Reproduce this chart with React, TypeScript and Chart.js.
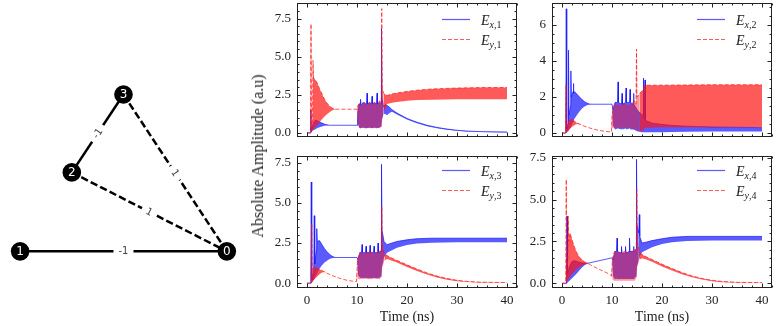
import React, { useEffect, useRef } from 'react';
import { Chart, registerables } from 'chart.js';
Chart.register(...registerables);

// ---------------- network (left) ----------------
const NODE_LABELS = ['0', '1', '2', '3'];
const NODE_X = [1.0, -1.0, -0.5, 0.0];
const NODE_Y = [-0.6, -0.6, 0.15, 0.89];
const EDGE_SRC = [1, 2, 2, 3];
const EDGE_DST = [0, 3, 0, 0];
const EDGE_WEIGHT = [-1, -1, 1, 1];

// ---------------- time series ----------------
// rows: [time (ns), upper envelope, lower envelope]
type Row = [number, number, number];

const TIME_TICKS = [0, 10, 20, 30, 40];
const Y_TICKS_25 = [0, 2.5, 5, 7.5];
const Y_TICKS_2 = [0, 2, 4, 6];
// window (ns) in which both fields oscillate on top of each other
const MIXED_WINDOW = [10.0, 15.2];

const EX1: Row[] = [
  [0, 0, 0], [0.7, 0, 0], [0.78, 1.5, 0], [0.84, 0.1, 0.05], [0.9, 0.25, 0.1], [1.2, 0.6, 0.15],
  [1.6, 0.82, 0.22], [2.0, 0.8, 0.3], [2.5, 0.72, 0.37], [3.0, 0.64, 0.42], [3.5, 0.57, 0.46],
  [4.0, 0.53, 0.48], [4.5, 0.5, 0.5], [10.0, 0.5, 0.5], [10.15, 1.3, 0.7], [10.4, 1.9, 0.35],
  [10.6, 1.9, 0.3], [10.7, 2.2, 0.3], [10.8, 1.8, 0.3], [11.2, 2.0, 0.35], [11.7, 1.9, 0.3],
  [11.9, 1.9, 0.3], [12.0, 2.6, 0.3], [12.1, 1.9, 0.3], [12.5, 2.0, 0.35], [12.9, 1.9, 0.3],
  [13.0, 2.4, 0.3], [13.1, 1.9, 0.3], [13.5, 2.0, 0.35], [13.9, 1.9, 0.3], [14.0, 2.6, 0.3],
  [14.1, 1.9, 0.3], [14.5, 2.0, 0.35], [14.8, 1.9, 0.4], [14.9, 6.85, 0.5], [15.0, 2.3, 0.9],
  [15.3, 1.7, 1.2], [15.6, 1.85, 1.25], [16.0, 1.8, 1.15], [16.5, 1.68, 1.3], [17.0, 1.52, 1.38],
  [18.0, 1.3, 1.2], [19.0, 1.12, 1.04], [20.0, 0.95, 0.88], [21.0, 0.82, 0.75], [22.0, 0.7, 0.63],
  [24.0, 0.5, 0.44], [26.0, 0.36, 0.31], [28.0, 0.25, 0.21], [30.0, 0.17, 0.14], [32.0, 0.12, 0.09],
  [35.0, 0.08, 0.05], [40.0, 0.06, 0.03],
];
const EY1: Row[] = [
  [0, 0, 0], [0.7, 0, 0], [0.8, 7.15, 0], [0.9, 0.3, 0.1], [1.1, 0.5, 0.15], [1.2, 4.75, 0.2],
  [1.3, 3.6, 0.25], [1.6, 3.5, 0.35], [2.0, 3.3, 0.5], [2.5, 2.9, 0.7], [3.0, 2.55, 0.9],
  [3.5, 2.2, 1.08], [4.0, 1.95, 1.22], [4.5, 1.76, 1.36], [5.0, 1.63, 1.46], [5.5, 1.56, 1.53],
  [6.0, 1.55, 1.55], [10.0, 1.55, 1.55], [10.15, 1.8, 0.6], [10.5, 1.9, 0.3], [11.0, 1.7, 0.35],
  [11.5, 2.0, 0.3], [12.0, 1.8, 0.35], [12.5, 2.0, 0.3], [13.0, 1.8, 0.35], [13.5, 2.0, 0.3],
  [14.0, 1.8, 0.35], [14.5, 2.1, 0.3], [14.85, 2.0, 0.4], [14.95, 8.15, 0.5], [15.05, 3.0, 0.9],
  [15.3, 2.6, 1.3], [16.0, 2.45, 1.9], [17.0, 2.55, 1.98], [18.0, 2.62, 2.03], [20.0, 2.72, 2.1],
  [22.0, 2.8, 2.15], [25.0, 2.88, 2.18], [30.0, 2.94, 2.2], [35.0, 2.97, 2.2], [40.0, 2.98, 2.2],
];
const EX2: Row[] = [
  [0, 0, 0], [0.75, 0, 0], [0.85, 6.9, 0], [0.95, 0.2, 0.05], [1.2, 0.5, 0.1], [1.3, 4.6, 0.15],
  [1.4, 1.0, 0.2], [1.7, 1.5, 0.3], [1.78, 3.45, 0.35], [1.86, 2.0, 0.4], [2.2, 2.3, 0.6],
  [2.28, 2.75, 0.65], [2.36, 2.2, 0.7], [2.5, 2.3, 0.8], [3.0, 2.15, 1.0], [3.5, 2.0, 1.2],
  [4.0, 1.86, 1.36], [4.5, 1.74, 1.48], [5.0, 1.66, 1.55], [5.5, 1.61, 1.59], [6.0, 1.6, 1.6],
  [10.0, 1.6, 1.6], [10.2, 1.3, 0.4], [10.6, 1.7, 0.2], [11.1, 1.7, 0.25], [11.2, 2.84, 0.25],
  [11.3, 1.7, 0.25], [11.9, 1.6, 0.2], [12.0, 2.2, 0.25], [12.1, 1.6, 0.2], [12.7, 1.7, 0.25],
  [12.8, 2.5, 0.25], [12.9, 1.7, 0.2], [13.5, 1.7, 0.25], [13.6, 2.42, 0.25], [13.7, 1.7, 0.2],
  [14.2, 1.6, 0.2], [14.3, 2.2, 0.25], [14.4, 1.6, 0.2], [15.0, 1.3, 0.1], [16.0, 1.0, 0.05],
  [16.2, 1.0, 0.05], [16.3, 3.05, 0.05], [16.4, 0.8, 0.05], [16.5, 0.8, 0.05], [16.6, 2.95, 0.05],
  [16.7, 0.7, 0.05], [18.0, 0.55, 0.05], [20.0, 0.48, 0.05], [22.0, 0.42, 0.06], [25.0, 0.38, 0.07],
  [30.0, 0.34, 0.08], [35.0, 0.32, 0.08], [40.0, 0.3, 0.08],
];
const EY2: Row[] = [
  [0, 0, 0], [0.7, 0, 0], [0.8, 2.7, 0], [0.9, 0.1, 0.05], [1.2, 0.6, 0.1], [1.8, 0.78, 0.3],
  [2.5, 0.66, 0.45], [3.0, 0.56, 0.5], [3.5, 0.5, 0.48], [4.0, 0.43, 0.43], [5.0, 0.33, 0.33],
  [6.0, 0.24, 0.24], [7.0, 0.17, 0.17], [8.0, 0.12, 0.12], [9.0, 0.08, 0.08], [9.9, 0.06, 0.06],
  [10.0, 1.0, 0.3], [10.5, 1.6, 0.3], [11.5, 1.5, 0.3], [12.5, 1.6, 0.3], [13.5, 1.5, 0.3],
  [14.5, 1.8, 0.2], [14.8, 1.6, 0.2], [14.9, 4.65, 0.2], [15.0, 2.0, 0.15], [15.5, 2.2, 0.1],
  [16.3, 2.4, 0.15], [16.5, 2.65, 0.3], [20.0, 2.66, 0.32], [30.0, 2.68, 0.32], [40.0, 2.68, 0.32],
];
const EX3: Row[] = [
  [0, 0, 0], [0.75, 0, 0], [0.85, 6.3, 0], [0.95, 0.2, 0.05], [1.35, 0.8, 0.2], [1.45, 4.2, 0.25],
  [1.55, 1.2, 0.3], [1.85, 2.0, 0.5], [1.95, 3.4, 0.55], [2.05, 2.6, 0.6], [2.5, 2.65, 0.9],
  [3.0, 2.4, 1.12], [3.5, 2.15, 1.28], [4.0, 1.96, 1.4], [4.5, 1.8, 1.5], [5.0, 1.68, 1.56],
  [5.5, 1.61, 1.59], [6.0, 1.6, 1.6], [10.0, 1.6, 1.6], [10.2, 1.5, 0.5], [10.6, 1.9, 0.35],
  [10.9, 1.9, 0.3], [11.0, 2.4, 0.35], [11.1, 1.9, 0.3], [11.7, 1.9, 0.3], [11.8, 2.3, 0.35],
  [11.9, 1.9, 0.3], [12.5, 1.9, 0.3], [12.6, 2.35, 0.35], [12.7, 1.9, 0.3], [13.3, 1.9, 0.3],
  [13.4, 2.3, 0.35], [13.5, 1.9, 0.3], [14.1, 1.9, 0.3], [14.2, 2.5, 0.35], [14.3, 1.9, 0.3],
  [14.8, 2.0, 0.4], [14.9, 7.4, 0.5], [15.0, 3.3, 1.0], [15.4, 2.6, 1.6], [16.0, 2.4, 1.9],
  [17.0, 2.5, 2.05], [18.0, 2.6, 2.2], [20.0, 2.7, 2.38], [22.0, 2.77, 2.47], [25.0, 2.8, 2.52],
  [30.0, 2.8, 2.55], [40.0, 2.8, 2.55],
];
const EY3: Row[] = [
  [0, 0, 0], [0.85, 0, 0], [0.95, 3.7, 0], [1.05, 0.3, 0.05], [1.3, 1.0, 0.2], [2.0, 0.95, 0.4],
  [2.5, 0.86, 0.55], [3.0, 0.78, 0.66], [3.5, 0.71, 0.69], [4.0, 0.62, 0.62], [5.0, 0.48, 0.48],
  [6.0, 0.36, 0.36], [7.0, 0.26, 0.26], [8.0, 0.18, 0.18], [9.0, 0.13, 0.13], [9.9, 0.1, 0.1],
  [10.1, 1.4, 0.3], [10.5, 1.9, 0.25], [11.5, 1.8, 0.3], [12.5, 2.0, 0.25], [13.5, 1.8, 0.3],
  [14.5, 2.0, 0.25], [14.85, 2.0, 0.4], [14.95, 4.8, 0.6], [15.05, 2.4, 1.0], [15.5, 1.8, 1.4],
  [16.0, 1.72, 1.5], [17.0, 1.56, 1.4], [18.0, 1.42, 1.28], [20.0, 1.14, 1.0], [22.0, 0.88, 0.76],
  [24.0, 0.64, 0.54], [26.0, 0.44, 0.36], [28.0, 0.29, 0.22], [30.0, 0.18, 0.12], [32.0, 0.11, 0.07],
  [35.0, 0.06, 0.03], [40.0, 0.04, 0.02],
];
const EX4: Row[] = [
  [0, 0, 0], [0.8, 0, 0], [0.9, 0.3, 0], [1.0, 4.0, 0.02], [1.1, 0.6, 0.05], [1.5, 1.0, 0.15],
  [2.0, 1.3, 0.3], [2.5, 1.35, 0.45], [3.0, 1.3, 0.6], [3.5, 1.25, 0.78], [4.0, 1.22, 0.95],
  [4.5, 1.2, 1.08], [5.0, 1.2, 1.17], [5.5, 1.22, 1.22], [10.0, 1.52, 1.52], [10.2, 1.4, 0.4],
  [10.6, 1.9, 0.25], [10.9, 1.9, 0.25], [11.0, 2.7, 0.3], [11.1, 1.9, 0.25], [11.8, 1.8, 0.25],
  [11.9, 2.2, 0.3], [12.0, 1.8, 0.25], [12.6, 1.8, 0.25], [12.7, 2.2, 0.3], [12.8, 1.8, 0.25],
  [13.4, 1.9, 0.25], [13.5, 2.7, 0.3], [13.6, 1.9, 0.25], [14.2, 1.9, 0.25], [14.3, 2.2, 0.3],
  [14.4, 1.9, 0.25], [14.8, 2.0, 0.4], [14.9, 7.4, 0.5], [15.0, 3.5, 1.0], [15.35, 3.0, 1.4],
  [15.45, 4.1, 1.5], [15.55, 2.8, 1.6], [16.0, 2.4, 1.85], [17.0, 2.47, 2.0], [18.0, 2.55, 2.15],
  [20.0, 2.66, 2.35], [22.0, 2.75, 2.45], [25.0, 2.8, 2.52], [30.0, 2.8, 2.55], [40.0, 2.8, 2.55],
];
const EY4: Row[] = [
  [0, 0, 0], [0.75, 0, 0], [0.85, 6.2, 0], [0.95, 0.4, 0.05], [1.15, 1.5, 0.2], [1.25, 4.0, 0.25],
  [1.35, 2.5, 0.3], [1.6, 3.0, 0.4], [2.0, 2.6, 0.55], [2.5, 2.15, 0.72], [3.0, 1.8, 0.86],
  [3.5, 1.56, 0.98], [4.0, 1.4, 1.06], [4.5, 1.28, 1.12], [5.0, 1.2, 1.16], [5.5, 1.14, 1.14],
  [6.0, 1.05, 1.05], [7.0, 0.9, 0.9], [8.0, 0.76, 0.76], [9.0, 0.62, 0.62], [9.9, 0.45, 0.45],
  [10.1, 1.5, 0.2], [10.5, 1.9, 0.15], [11.5, 1.8, 0.15], [12.5, 1.9, 0.15], [13.5, 1.8, 0.15],
  [14.5, 2.0, 0.15], [14.85, 2.0, 0.3], [14.95, 5.6, 0.5], [15.05, 2.5, 1.0], [15.5, 1.85, 1.4],
  [16.0, 1.72, 1.5], [17.0, 1.56, 1.4], [18.0, 1.42, 1.28], [20.0, 1.14, 1.0], [22.0, 0.88, 0.76],
  [24.0, 0.64, 0.54], [26.0, 0.44, 0.36], [28.0, 0.29, 0.22], [30.0, 0.18, 0.12], [32.0, 0.11, 0.07],
  [35.0, 0.06, 0.03], [40.0, 0.04, 0.02],
];

const SUBS_1 = ['x,1', 'y,1'];
const SUBS_2 = ['x,2', 'y,2'];
const SUBS_3 = ['x,3', 'y,3'];
const SUBS_4 = ['x,4', 'y,4'];

const BLUE = 'rgba(20,20,255,0.7)';
const RED = 'rgba(255,20,20,0.7)';
const RED_THIN = 'rgba(255,20,20,0.45)';
const INK = '#222';
const SERIF = '"Liberation Serif", "Times New Roman", serif';

// ---------------- plugins ----------------
const framePlugin = {
  id: 'frame',
  afterDraw(chart: any, _args: any, o: any) {
    const { ctx, chartArea: a } = chart;
    const xs = chart.scales.x;
    const ys = chart.scales.y;
    const L = Math.round(a.left) + 0.5;
    const R = Math.round(a.right) - 0.5;
    const T = Math.round(a.top) + 0.5;
    const B = Math.round(a.bottom) - 0.5;
    const seg = (x1: number, y1: number, x2: number, y2: number) => {
      ctx.beginPath(); ctx.moveTo(x1, y1); ctx.lineTo(x2, y2); ctx.stroke();
    };
    const isMajor = (arr: number[], v: number) => arr.some((m) => Math.abs(m - v) < 1e-6);
    ctx.save();
    ctx.strokeStyle = INK;
    ctx.lineWidth = 1;
    ctx.strokeRect(L, T, R - L, B - T);
    for (let v = Math.ceil(xs.min / o.xMinor) * o.xMinor; v <= xs.max + 1e-9; v += o.xMinor) {
      const len = isMajor(o.xMajor, v) ? 4 : 2;
      const px = Math.round(xs.getPixelForValue(v)) + 0.5;
      seg(px, B, px, B - len);
      seg(px, T, px, T + len);
    }
    for (let v = Math.ceil(ys.min / o.yMinor) * o.yMinor; v <= ys.max + 1e-9; v += o.yMinor) {
      const len = isMajor(o.yMajor, v) ? 4 : 2;
      const py = Math.round(ys.getPixelForValue(v)) + 0.5;
      seg(L, py, L + len, py);
      seg(R, py, R - len, py);
    }
    const rows = [
      { color: BLUE, dash: [] as number[], sub: o.subs[0] },
      { color: RED, dash: [4, 2], sub: o.subs[1] },
    ];
    rows.forEach((r, i) => {
      const y = a.top + o.legendTop + i * 20;
      ctx.strokeStyle = r.color;
      ctx.lineWidth = 1.2;
      ctx.setLineDash(r.dash);
      seg(a.right - 75, y, a.right - 47, y);
      ctx.setLineDash([]);
      let x = a.right - 36;
      ctx.fillStyle = INK;
      ctx.textBaseline = 'alphabetic';
      ctx.textAlign = 'left';
      ctx.font = 'italic 14px ' + SERIF;
      ctx.fillText('E', x, y + 5);
      x += ctx.measureText('E').width;
      ctx.font = 'italic 10px ' + SERIF;
      ctx.fillText(r.sub[0], x, y + 8);
      x += ctx.measureText(r.sub[0]).width;
      ctx.font = '10px ' + SERIF;
      ctx.fillText(r.sub.slice(1), x, y + 8);
    });
    ctx.restore();
  },
};

const netLabelPlugin = {
  id: 'netLabels',
  afterDatasetsDraw(chart: any) {
    const { ctx } = chart;
    const xs = chart.scales.x;
    const ys = chart.scales.y;
    const pos = (i: number) => [xs.getPixelForValue(NODE_X[i]), ys.getPixelForValue(NODE_Y[i])];
    ctx.save();
    ctx.textAlign = 'center';
    ctx.textBaseline = 'middle';
    ctx.font = '10px "DejaVu Sans", sans-serif';
    EDGE_SRC.forEach((s, k) => {
      const [x1, y1] = pos(s);
      const [x2, y2] = pos(EDGE_DST[k]);
      const mx = (x1 + x2) / 2;
      const my = (y1 + y2) / 2;
      let ang = Math.atan2(y2 - y1, x2 - x1);
      if (ang > Math.PI / 2) ang -= Math.PI;
      if (ang < -Math.PI / 2) ang += Math.PI;
      const txt = String(EDGE_WEIGHT[k]);
      const w = ctx.measureText(txt).width + 10;
      const h = 13;
      ctx.save();
      ctx.translate(mx, my);
      ctx.rotate(ang);
      ctx.fillStyle = '#fff';
      ctx.beginPath();
      if (ctx.roundRect) ctx.roundRect(-w / 2, -h / 2, w, h, 3); else ctx.rect(-w / 2, -h / 2, w, h);
      ctx.fill();
      ctx.fillStyle = '#444';
      ctx.fillText(txt, 0, 0.5);
      ctx.restore();
    });
    ctx.font = '12px "DejaVu Sans", sans-serif';
    ctx.fillStyle = '#fff';
    NODE_LABELS.forEach((l, i) => {
      const [x, y] = pos(i);
      ctx.fillText(l, x, y + 0.5);
    });
    ctx.restore();
  },
};

// ---------------- components ----------------
function Network() {
  const ref = useRef<HTMLCanvasElement>(null);
  useEffect(() => {
    const pts = NODE_X.map((x, i) => ({ x, y: NODE_Y[i] }));
    const edgeSets = EDGE_SRC.map((s, k) => ({
      data: [pts[s], pts[EDGE_DST[k]]],
      showLine: true,
      borderColor: '#000',
      borderWidth: 2.5,
      borderDash: EDGE_WEIGHT[k] > 0 ? [7.4, 3.2] : [],
      pointRadius: 0,
      order: 1,
      clip: false,
    }));
    const nodeSet = {
      data: pts,
      showLine: false,
      pointRadius: 9.3,
      pointHoverRadius: 9.3,
      backgroundColor: '#000',
      borderWidth: 0,
      order: 0,
      clip: false,
    };
    const chart = new Chart(ref.current as HTMLCanvasElement, {
      type: 'scatter',
      data: { datasets: [...edgeSets, nodeSet] as any },
      options: {
        animation: false,
        responsive: false,
        events: [],
        layout: { padding: 0 },
        plugins: { legend: { display: false }, tooltip: { enabled: false } },
        scales: {
          x: { type: 'linear', display: false, min: -1.1048, max: 1.1343 },
          y: { type: 'linear', display: false, min: -1.2206, max: 1.6992 },
        },
      } as any,
      plugins: [netLabelPlugin],
    });
    return () => chart.destroy();
  }, []);
  return (
    <canvas ref={ref} width={250} height={326}
      style={{ position: 'absolute', left: 0, top: 0, width: 250, height: 326 }} />
  );
}

type PanelProps = {
  left: number; top: number; width: number; height: number;
  axisW: number; padTop: number; padRight: number; padBottom: number;
  showX: boolean; ex: Row[]; ey: Row[];
  yMin: number; yMax: number; yTicks: number[]; yDec: number; yMinor: number;
  subs: string[]; legendTop: number;
};

function Panel(p: PanelProps) {
  const ref = useRef<HTMLCanvasElement>(null);
  useEffect(() => {
    const datasets: any[] = [];
    const addBand = (rows: Row[], color: string, mixedColor: string, dashed: boolean, order: number) => {
      const base = {
        borderWidth: 1, pointRadius: 0, pointHoverRadius: 0, tension: 0,
        borderDash: dashed ? [4, 2] : [], order,
      };
      datasets.push({ ...base, borderColor: color, data: rows.map((r) => ({ x: r[0], y: r[1] })), fill: false });
      datasets.push({
        ...base, borderColor: 'rgba(0,0,0,0)', backgroundColor: color,
        data: rows.map((r) => ({ x: r[0], y: r[2] })), fill: '-1',
        segment: {
          backgroundColor: (c: any) => {
            const t = rows[c.p0DataIndex][0];
            return t >= MIXED_WINDOW[0] && t < MIXED_WINDOW[1] ? mixedColor : undefined;
          },
        },
      });
    };
    addBand(p.ex, BLUE, BLUE, false, 1);
    addBand(p.ey, RED, RED_THIN, true, 0);
    const tickFont = { family: SERIF, size: 13 };
    const chart = new Chart(ref.current as HTMLCanvasElement, {
      type: 'line',
      data: { datasets },
      options: {
        animation: false,
        responsive: false,
        events: [],
        layout: { padding: { top: p.padTop, right: p.padRight, bottom: p.showX ? 0 : p.padBottom, left: 0 } },
        plugins: {
          legend: { display: false },
          tooltip: { enabled: false },
          frame: { xMajor: TIME_TICKS, xMinor: 2, yMajor: p.yTicks, yMinor: p.yMinor, subs: p.subs, legendTop: p.legendTop },
        },
        scales: {
          x: {
            type: 'linear', min: -2, max: 42, display: p.showX,
            afterBuildTicks: (s: any) => { s.ticks = TIME_TICKS.map((v) => ({ value: v })); },
            afterFit: (s: any) => {
              if (p.showX) s.height = 38;
              s.paddingLeft = 0; s.paddingRight = 0; s.paddingTop = 0; s.paddingBottom = 0;
            },
            grid: { display: false, drawTicks: false },
            border: { display: false },
            ticks: { padding: 5, maxRotation: 0, autoSkip: false, color: INK, font: tickFont, callback: (v: any) => String(v) },
            title: { display: true, text: 'Time (ns)', color: INK, font: { family: SERIF, size: 14 }, padding: { top: 0, bottom: 0 } },
          },
          y: {
            type: 'linear', min: p.yMin, max: p.yMax,
            afterBuildTicks: (s: any) => { s.ticks = p.yTicks.map((v) => ({ value: v })); },
            afterFit: (s: any) => {
              s.width = p.axisW;
              s.paddingLeft = 0; s.paddingRight = 0; s.paddingTop = 0; s.paddingBottom = 0;
            },
            grid: { display: false, drawTicks: false },
            border: { display: false },
            ticks: { padding: 6, color: INK, font: tickFont, callback: (v: any) => Number(v).toFixed(p.yDec) },
          },
        },
      } as any,
      plugins: [framePlugin],
    });
    return () => chart.destroy();
  }, []);
  return (
    <canvas ref={ref} width={p.width} height={p.height}
      style={{ position: 'absolute', left: p.left, top: p.top, width: p.width, height: p.height }} />
  );
}

export default function App() {
  return (
    <div style={{ position: 'absolute', left: 0, top: 0, width: 777, height: 326, background: '#fff', overflow: 'hidden' }}>
      <Network />
      <Panel left={250} top={0} width={270} height={140} axisW={47} padTop={2.5} padRight={3} padBottom={3}
        showX={false} ex={EX1} ey={EY1} yMin={-0.27} yMax={8.55} yTicks={Y_TICKS_25} yDec={1} yMinor={0.5}
        subs={SUBS_1} legendTop={17} />
      <Panel left={520} top={0} width={257} height={140} axisW={32} padTop={2.5} padRight={5} padBottom={3}
        showX={false} ex={EX2} ey={EY2} yMin={-0.22} yMax={7.25} yTicks={Y_TICKS_2} yDec={0} yMinor={0.5}
        subs={SUBS_2} legendTop={17} />
      <Panel left={250} top={152} width={270} height={174} axisW={47} padTop={3.5} padRight={3} padBottom={0}
        showX={true} ex={EX3} ey={EY3} yMin={-0.3} yMax={7.95} yTicks={Y_TICKS_25} yDec={1} yMinor={0.5}
        subs={SUBS_3} legendTop={15} />
      <Panel left={520} top={152} width={257} height={174} axisW={32} padTop={3.5} padRight={5} padBottom={0}
        showX={true} ex={EX4} ey={EY4} yMin={-0.28} yMax={7.63} yTicks={Y_TICKS_25} yDec={1} yMinor={0.5}
        subs={SUBS_4} legendTop={15} />
      <div style={{
        position: 'absolute', left: 258, top: 156, transform: 'translate(-50%, -50%) rotate(-90deg)',
        fontFamily: SERIF, fontSize: 16, fontWeight: 400, color: INK, whiteSpace: 'nowrap', lineHeight: 1,
      }}>Absolute Amplitude (a.u)</div>
    </div>
  );
}
